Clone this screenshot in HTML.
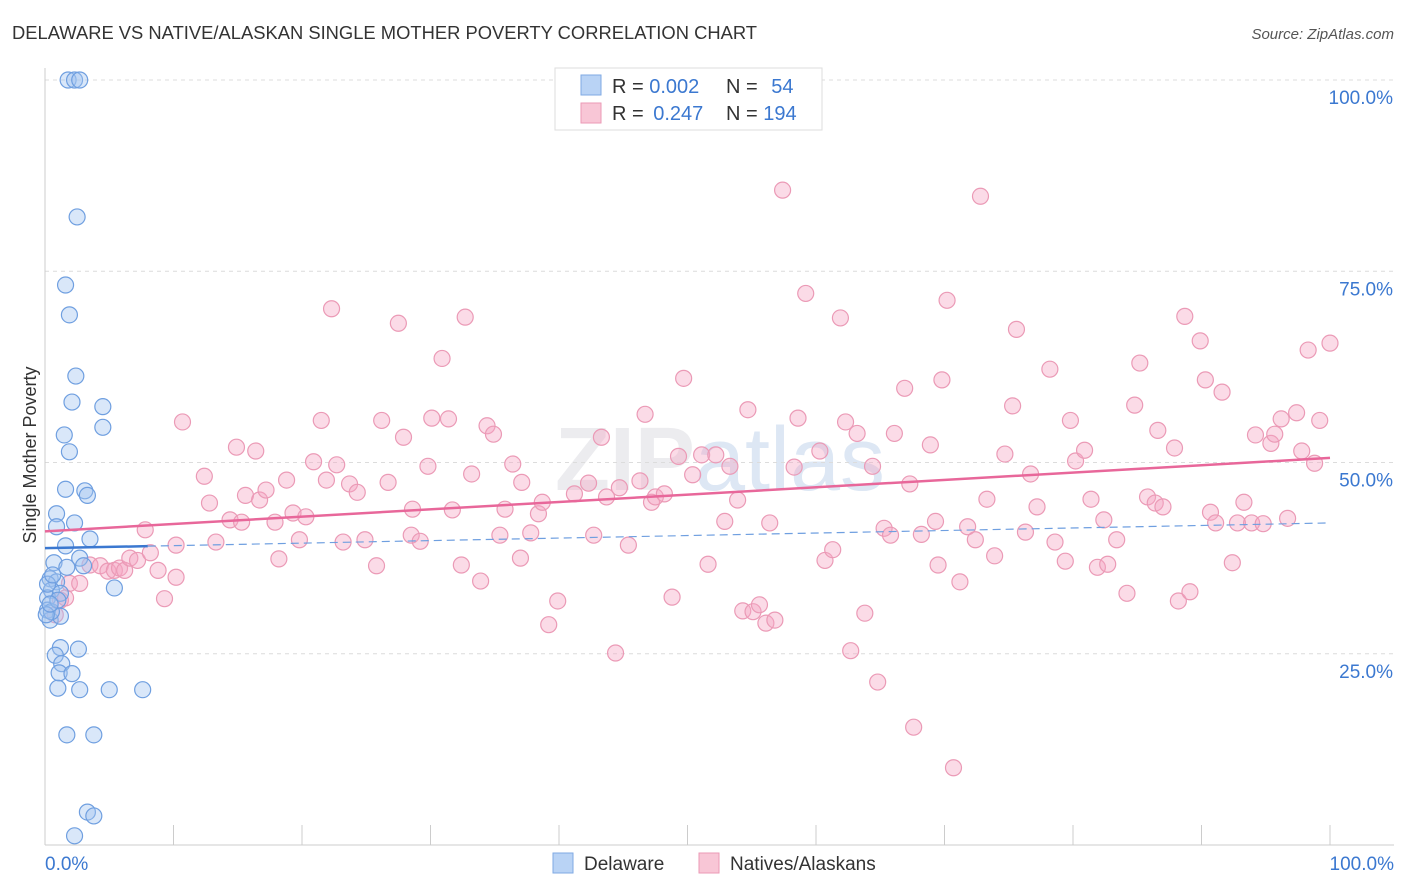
<!DOCTYPE html>
<html><head><meta charset="utf-8"><style>
body{margin:0;background:#fff;font-family:"Liberation Sans",sans-serif;}
#wrap{position:relative;width:1406px;height:892px;overflow:hidden;}
svg text{font-family:"Liberation Sans",sans-serif;}
</style></head><body>
<div id="wrap">
<svg id="chart" width="1406" height="892">
<text x="12" y="39" font-size="18" fill="#333" textLength="745" lengthAdjust="spacingAndGlyphs">DELAWARE VS NATIVE/ALASKAN SINGLE MOTHER POVERTY CORRELATION CHART</text>
<text x="1394" y="39" font-size="15" fill="#555" font-style="italic" text-anchor="end">Source: ZipAtlas.com</text>
<text x="36" y="455" font-size="18" fill="#333" text-anchor="middle" transform="rotate(-90 36 455)">Single Mother Poverty</text>
<text x="720" y="490" font-size="90" fill="#ececef" text-anchor="middle" font-weight="bold">ZIP<tspan fill="#dde7f4" font-weight="normal">atlas</tspan></text>
<g id="grid"></g><g id="axes"></g><g id="pts"></g><g id="trend"></g>
<g>
<rect x="555" y="68" width="267" height="62" fill="#fff" stroke="#ddd"/>
<rect x="581" y="75" width="20" height="20" fill="#b9d3f5" stroke="#7fa9e3"/>
<rect x="581" y="103" width="20" height="20" fill="#f8c6d6" stroke="#eb9ab6"/>
<text x="612" y="93" font-size="20" fill="#333">R = <tspan fill="#3b78d0">0.002</tspan></text>
<text x="726" y="93" font-size="20" fill="#333">N = <tspan fill="#3b78d0" dx="8">54</tspan></text>
<text x="612" y="120" font-size="20" fill="#333">R = <tspan fill="#3b78d0" dx="4">0.247</tspan></text>
<text x="726" y="120" font-size="20" fill="#333">N = <tspan fill="#3b78d0">194</tspan></text>
</g>
<g>
<rect x="553" y="853" width="20" height="20" fill="#b9d3f5" stroke="#7fa9e3"/>
<text x="584" y="870" font-size="19" fill="#333">Delaware</text>
<rect x="699" y="853" width="20" height="20" fill="#f8c6d6" stroke="#eb9ab6"/>
<text x="730" y="870" font-size="19" fill="#333">Natives/Alaskans</text>
</g>
</svg>
</div>
<script>
const yTicks=[25,50,75,100];
const yTickLabels=["25.0%","50.0%","75.0%","100.0%"];
const xTicks=[0,10,20,30,40,50,60,70,80,90,100];
const blueX=[1.8,2.3,2.7,2.5,1.6,1.9,2.4,2.1,4.5,4.5,1.5,1.9,1.6,3.1,3.3,0.9,2.3,0.9,1.6,3.5,2.7,0.7,3.0,1.7,0.4,0.9,0.5,0.2,1.2,0.2,0.4,1.2,5.4,1.2,2.6,0.8,1.3,1.1,2.1,1.0,2.7,5.0,7.6,1.7,3.8,3.3,3.8,2.3,0.2,0.5,0.1,1.0,0.6,0.4];
const blueY=[100,100,100,82.1,73.2,69.3,61.3,57.9,57.3,54.6,53.6,51.4,46.5,46.3,45.7,43.3,42.1,41.6,39.1,40.0,37.5,36.9,36.5,36.3,34.8,34.4,33.3,32.3,32.9,30.7,29.4,29.9,33.6,25.8,25.6,24.8,23.7,22.5,22.4,20.5,20.3,20.3,20.3,14.4,14.4,4.3,3.8,1.2,34.1,30.5,30.1,32.0,35.3,31.5];
const pinkX=[0.8,1.2,1.6,1.9,2.7,3.5,4.3,4.9,5.4,5.8,6.2,6.6,7.2,7.8,8.2,8.8,9.3,10.2,10.2,10.7,12.4,12.8,13.3,14.4,14.9,15.3,15.6,16.4,16.7,17.2,17.9,18.2,18.8,19.3,19.8,20.3,20.9,21.5,21.9,22.3,22.7,23.2,23.7,24.3,24.9,25.8,26.2,26.7,27.5,27.9,28.5,28.6,29.2,29.8,30.1,30.9,31.4,31.7,32.4,32.7,33.2,33.9,34.4,34.9,35.4,35.8,36.4,37.0,37.1,37.8,38.4,38.7,39.2,39.9,41.2,42.3,42.7,43.3,43.7,44.4,44.7,45.4,46.3,46.7,47.2,47.5,48.2,48.8,49.3,49.7,50.4,51.1,51.6,52.2,52.9,53.3,53.9,54.3,54.7,55.1,55.6,56.1,56.4,56.8,57.4,58.3,58.6,59.2,60.3,60.7,61.3,61.9,62.3,62.7,63.2,63.8,64.4,64.8,65.3,65.8,66.1,66.9,67.3,67.6,68.2,68.9,69.3,69.5,69.8,70.2,70.7,71.2,71.8,72.4,72.8,73.3,73.9,74.7,75.3,75.6,76.3,76.7,77.2,78.2,78.6,79.4,79.8,80.2,80.9,81.4,81.9,82.4,82.7,83.4,84.2,84.8,85.2,85.8,86.4,86.6,87.0,87.9,88.2,88.7,89.1,89.9,90.3,90.7,91.1,91.6,92.4,92.8,93.3,93.9,94.2,94.8,95.4,95.7,96.2,96.7,97.4,97.8,98.3,98.8,99.2,100];
const pinkY=[30.1,32.0,32.3,34.2,34.2,36.6,36.5,35.8,35.9,36.2,35.9,37.5,37.2,41.2,38.2,35.9,32.2,35.0,39.2,55.3,48.2,44.7,39.6,42.5,52.0,42.2,45.7,51.5,45.1,46.4,42.2,37.4,47.7,43.4,39.9,42.9,50.1,55.5,47.7,70.1,49.7,39.6,47.2,46.1,39.9,36.5,55.5,47.4,68.2,53.3,40.5,43.9,39.7,49.5,55.8,63.6,55.7,43.8,36.6,69.0,48.5,34.5,54.8,53.7,40.5,43.9,49.8,37.5,47.4,40.8,43.3,44.8,28.8,31.9,45.9,47.3,40.5,53.3,45.5,25.1,46.7,39.2,47.6,56.3,44.8,45.5,45.9,32.4,50.8,61.0,48.4,51.0,36.7,51.0,42.3,49.5,45.1,30.6,56.9,30.5,31.4,29.0,42.1,29.4,85.6,49.4,55.8,72.1,51.5,37.2,38.6,68.9,55.3,25.4,53.8,30.3,49.5,21.3,41.4,40.5,53.8,59.7,47.2,15.4,40.6,52.3,42.3,36.6,60.8,71.2,10.1,34.4,41.6,39.9,84.8,45.2,37.8,51.1,57.4,67.4,40.9,48.5,44.2,62.2,39.6,37.1,55.5,50.2,51.6,45.2,36.3,42.5,36.7,39.9,32.9,57.5,63.0,45.5,44.7,54.2,44.2,51.9,31.9,69.1,33.1,65.9,60.8,43.5,42.1,59.2,36.9,42.1,44.8,42.1,53.6,42.0,52.5,53.7,55.7,42.7,56.5,51.5,64.7,49.9,55.5,65.6];
const pinkTrend=[41.0,50.6];
const blueTrend=[38.8,42.1];
const NS="http://www.w3.org/2000/svg";
function sx(v){return 45+v*12.85;}
function sy(v){return 845-v*7.65;}
function mk(tag,attrs,parent){const e=document.createElementNS(NS,tag);for(const k in attrs)e.setAttribute(k,attrs[k]);parent.appendChild(e);return e;}
const grid=document.getElementById('grid'),axes=document.getElementById('axes'),pts=document.getElementById('pts'),trend=document.getElementById('trend');
yTicks.forEach((t,i)=>{
 const l=mk('line',{x1:45,x2:1394,y1:sy(t),y2:sy(t),stroke:'#dcdcdc','stroke-dasharray':'4,4'},grid);
 
 
 const tx=mk('text',{x:1393,y:sy(t)+24,'font-size':19,fill:'#3b78d0','text-anchor':'end'},grid);
 tx.textContent=yTickLabels[i];
 
 
});
const ya=mk('line',{x1:45,x2:45,y1:68,y2:845,stroke:'#ccc'},axes);


const xa=mk('line',{x1:45,x2:1394,y1:845,y2:845,stroke:'#ccc'},axes);


xTicks.forEach(t=>{
 const l=mk('line',{x1:sx(t),x2:sx(t),y1:825,y2:845,stroke:'#ccc'},axes);
 
 
});
const xl0=mk('text',{x:45,y:870,'font-size':19,fill:'#3b78d0'},axes);xl0.textContent='0.0%';


const xl1=mk('text',{x:1394,y:870,'font-size':19,fill:'#3b78d0','text-anchor':'end'},axes);xl1.textContent='100.0%';


pinkX.forEach((x,i)=>{
 const c=mk('circle',{cx:sx(x),cy:sy(pinkY[i]),r:8,fill:'rgba(244,166,194,0.4)',stroke:'#eb9ab6','stroke-width':1.2},pts);
 
 
});
blueX.forEach((x,i)=>{
 const c=mk('circle',{cx:sx(x),cy:sy(blueY[i]),r:8,fill:'rgba(160,195,240,0.4)',stroke:'#6f9fe0','stroke-width':1.2},pts);
 
 
});
const pt=mk('line',{x1:sx(0),x2:sx(100),y1:sy(pinkTrend[0]),y2:sy(pinkTrend[1]),stroke:'#e8679a','stroke-width':2.5},trend);


const bsy=v=>sy(blueTrend[0]+(blueTrend[1]-blueTrend[0])*v/100);
const bt1=mk('line',{x1:sx(0),x2:sx(8),y1:bsy(0),y2:bsy(8),stroke:'#3b78d0','stroke-width':2.5},trend);


const bt2=mk('line',{x1:sx(8),x2:sx(100),y1:bsy(8),y2:bsy(100),stroke:'#6f9fe0','stroke-width':1.2,'stroke-dasharray':'8,5'},trend);


</script>
</body></html>
